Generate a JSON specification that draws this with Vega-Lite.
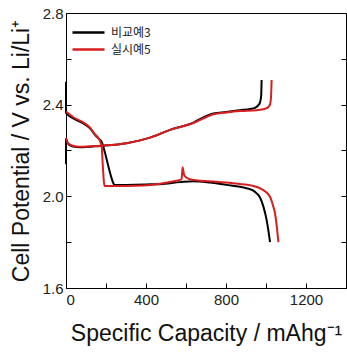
{
  "$schema": "https://vega.github.io/schema/vega-lite/v6.json",
  "width": 280,
  "height": 275,
  "autosize": {"type": "none"},
  "padding": {"left": 66, "top": 13, "right": 1, "bottom": 66},
  "background": "white",
  "config": {
    "font": "Liberation Sans",
    "view": {"stroke": "#000", "strokeWidth": 1}
  },
  "data": {"values": [
    {"s":"비교예3","c":"bd","o":1,"x":0,"y":2.50},
    {"s":"비교예3","c":"bd","o":2,"x":0,"y":2.365},
    {"s":"비교예3","c":"bd","o":3,"x":37,"y":2.34},
    {"s":"비교예3","c":"bd","o":4,"x":87,"y":2.318},
    {"s":"비교예3","c":"bd","o":5,"x":120,"y":2.297},
    {"s":"비교예3","c":"bd","o":6,"x":145,"y":2.268},
    {"s":"비교예3","c":"bd","o":7,"x":162,"y":2.253},
    {"s":"비교예3","c":"bd","o":8,"x":178,"y":2.238},
    {"s":"비교예3","c":"bd","o":9,"x":195,"y":2.19},
    {"s":"비교예3","c":"bd","o":10,"x":215,"y":2.12},
    {"s":"비교예3","c":"bd","o":11,"x":237,"y":2.057},
    {"s":"비교예3","c":"bd","o":12,"x":242,"y":2.049},
    {"s":"비교예3","c":"bd","o":13,"x":303,"y":2.050},
    {"s":"비교예3","c":"bd","o":14,"x":400,"y":2.052},
    {"s":"비교예3","c":"bd","o":15,"x":470,"y":2.053},
    {"s":"비교예3","c":"bd","o":16,"x":570,"y":2.062},
    {"s":"비교예3","c":"bd","o":17,"x":637,"y":2.066},
    {"s":"비교예3","c":"bd","o":18,"x":720,"y":2.060},
    {"s":"비교예3","c":"bd","o":19,"x":803,"y":2.050},
    {"s":"비교예3","c":"bd","o":20,"x":870,"y":2.042},
    {"s":"비교예3","c":"bd","o":21,"x":903,"y":2.035},
    {"s":"비교예3","c":"bd","o":22,"x":937,"y":2.025},
    {"s":"비교예3","c":"bd","o":23,"x":953,"y":2.013},
    {"s":"비교예3","c":"bd","o":24,"x":970,"y":1.995},
    {"s":"비교예3","c":"bd","o":25,"x":987,"y":1.955},
    {"s":"비교예3","c":"bd","o":26,"x":1003,"y":1.897},
    {"s":"비교예3","c":"bd","o":27,"x":1012,"y":1.85},
    {"s":"비교예3","c":"bd","o":28,"x":1020,"y":1.80},

    {"s":"비교예3","c":"bc","o":1,"x":0,"y":2.14},
    {"s":"비교예3","c":"bc","o":2,"x":0,"y":2.25},
    {"s":"비교예3","c":"bc","o":3,"x":10,"y":2.23},
    {"s":"비교예3","c":"bc","o":4,"x":30,"y":2.218},
    {"s":"비교예3","c":"bc","o":5,"x":70,"y":2.214},
    {"s":"비교예3","c":"bc","o":6,"x":170,"y":2.220},
    {"s":"비교예3","c":"bc","o":7,"x":303,"y":2.232},
    {"s":"비교예3","c":"bc","o":8,"x":420,"y":2.256},
    {"s":"비교예3","c":"bc","o":9,"x":520,"y":2.29},
    {"s":"비교예3","c":"bc","o":10,"x":637,"y":2.322},
    {"s":"비교예3","c":"bc","o":11,"x":700,"y":2.35},
    {"s":"비교예3","c":"bc","o":12,"x":737,"y":2.362},
    {"s":"비교예3","c":"bc","o":13,"x":803,"y":2.368},
    {"s":"비교예3","c":"bc","o":14,"x":870,"y":2.376},
    {"s":"비교예3","c":"bc","o":15,"x":920,"y":2.381},
    {"s":"비교예3","c":"bc","o":16,"x":945,"y":2.386},
    {"s":"비교예3","c":"bc","o":17,"x":962,"y":2.398},
    {"s":"비교예3","c":"bc","o":18,"x":970,"y":2.41},
    {"s":"비교예3","c":"bc","o":19,"x":976,"y":2.44},
    {"s":"비교예3","c":"bc","o":20,"x":978,"y":2.508},

    {"s":"실시예5","c":"rd","o":1,"x":0,"y":2.37},
    {"s":"실시예5","c":"rd","o":2,"x":37,"y":2.345},
    {"s":"실시예5","c":"rd","o":3,"x":87,"y":2.322},
    {"s":"실시예5","c":"rd","o":4,"x":120,"y":2.30},
    {"s":"실시예5","c":"rd","o":5,"x":145,"y":2.27},
    {"s":"실시예5","c":"rd","o":6,"x":165,"y":2.25},
    {"s":"실시예5","c":"rd","o":7,"x":178,"y":2.22},
    {"s":"실시예5","c":"rd","o":8,"x":183,"y":2.15},
    {"s":"실시예5","c":"rd","o":9,"x":188,"y":2.08},
    {"s":"실시예5","c":"rd","o":10,"x":192,"y":2.045},
    {"s":"실시예5","c":"rd","o":11,"x":303,"y":2.045},
    {"s":"실시예5","c":"rd","o":12,"x":387,"y":2.047},
    {"s":"실시예5","c":"rd","o":13,"x":470,"y":2.055},
    {"s":"실시예5","c":"rd","o":14,"x":540,"y":2.066},
    {"s":"실시예5","c":"rd","o":15,"x":578,"y":2.074},
    {"s":"실시예5","c":"rd","o":16,"x":583,"y":2.127},
    {"s":"실시예5","c":"rd","o":17,"x":590,"y":2.095},
    {"s":"실시예5","c":"rd","o":18,"x":600,"y":2.083},
    {"s":"실시예5","c":"rd","o":19,"x":620,"y":2.075},
    {"s":"실시예5","c":"rd","o":20,"x":670,"y":2.068},
    {"s":"실시예5","c":"rd","o":21,"x":750,"y":2.064},
    {"s":"실시예5","c":"rd","o":22,"x":803,"y":2.060},
    {"s":"실시예5","c":"rd","o":23,"x":870,"y":2.054},
    {"s":"실시예5","c":"rd","o":24,"x":920,"y":2.049},
    {"s":"실시예5","c":"rd","o":25,"x":987,"y":2.027},
    {"s":"실시예5","c":"rd","o":26,"x":1020,"y":1.998},
    {"s":"실시예5","c":"rd","o":27,"x":1035,"y":1.96},
    {"s":"실시예5","c":"rd","o":28,"x":1045,"y":1.926},
    {"s":"실시예5","c":"rd","o":29,"x":1055,"y":1.86},
    {"s":"실시예5","c":"rd","o":30,"x":1062,"y":1.80},

    {"s":"실시예5","c":"rc","o":1,"x":0,"y":2.255},
    {"s":"실시예5","c":"rc","o":2,"x":10,"y":2.232},
    {"s":"실시예5","c":"rc","o":3,"x":30,"y":2.222},
    {"s":"실시예5","c":"rc","o":4,"x":70,"y":2.216},
    {"s":"실시예5","c":"rc","o":5,"x":170,"y":2.221},
    {"s":"실시예5","c":"rc","o":6,"x":303,"y":2.232},
    {"s":"실시예5","c":"rc","o":7,"x":420,"y":2.256},
    {"s":"실시예5","c":"rc","o":8,"x":520,"y":2.29},
    {"s":"실시예5","c":"rc","o":9,"x":637,"y":2.32},
    {"s":"실시예5","c":"rc","o":10,"x":700,"y":2.345},
    {"s":"실시예5","c":"rc","o":11,"x":737,"y":2.358},
    {"s":"실시예5","c":"rc","o":12,"x":803,"y":2.366},
    {"s":"실시예5","c":"rc","o":13,"x":870,"y":2.372},
    {"s":"실시예5","c":"rc","o":14,"x":953,"y":2.376},
    {"s":"실시예5","c":"rc","o":15,"x":995,"y":2.382},
    {"s":"실시예5","c":"rc","o":16,"x":1012,"y":2.39},
    {"s":"실시예5","c":"rc","o":17,"x":1020,"y":2.40},
    {"s":"실시예5","c":"rc","o":18,"x":1025,"y":2.43},
    {"s":"실시예5","c":"rc","o":19,"x":1028,"y":2.508}
  ]},
  "layer": [
    {
      "mark": {"type": "line", "strokeWidth": 2, "interpolate": "monotone"},
      "encoding": {
        "x": {"field": "x", "type": "quantitative",
          "scale": {"domain": [0, 1400], "nice": false},
          "axis": {
            "values": [0,200,400,600,800,1000,1200,1400],
            "labelExpr": "datum.value % 400 === 0 && datum.value < 1400 ? datum.label : ''",
            "format": "d",
            "grid": false, "domain": false,
            "tickSize": -5, "tickColor": "#000",
            "labelFont": "Liberation Sans", "titleFont": "Liberation Sans",
            "labelFontSize": 15, "labelColor": "#222", "labelPadding": 9,
            "title": "Specific Capacity / mAhg⁻¹",
            "titleFontSize": 23, "titleFontWeight": "normal", "titleColor": "#111",
            "titlePadding": 15
          }},
        "y": {"field": "y", "type": "quantitative",
          "scale": {"domain": [1.6, 2.8], "nice": false, "zero": false},
          "axis": {
            "values": [1.6,1.8,2.0,2.2,2.4,2.6,2.8],
            "format": ".1f",
            "labelExpr": "indexof(['1.6','2.0','2.4','2.8'], datum.label) >= 0 ? datum.label : ''",
            "grid": false, "domain": false,
            "tickSize": -5, "tickColor": "#000",
            "labelFont": "Liberation Sans", "titleFont": "Liberation Sans",
            "labelFontSize": 15, "labelColor": "#222", "labelPadding": 8,
            "title": "Cell Potential  / V vs. Li/Li⁺",
            "titleFontSize": 23, "titleFontWeight": "normal", "titleColor": "#111",
            "titlePadding": 9
          }},
        "color": {"field": "s", "type": "nominal",
          "scale": {"domain": ["비교예3", "실시예5"], "range": ["#000000", "#d81e1e"]},
          "legend": {
            "title": null, "orient": "none", "legendX": 13, "legendY": 10,
            "symbolType": "M-2,0H2", "symbolSize": 256, "symbolStrokeWidth": 2.5,
            "symbolFillColor": "transparent",
            "labelFont": "Noto Sans CJK KR", "labelFontSize": 12, "labelColor": "#222",
            "rowPadding": 1, "padding": 0, "labelOffset": 13
          }},
        "detail": {"field": "c"},
        "order": {"field": "o", "type": "quantitative"}
      }
    },
    {
      "mark": {"type": "point", "opacity": 0},
      "encoding": {
        "y": {"field": "y", "type": "quantitative",
          "scale": {"domain": [1.6, 2.8], "nice": false, "zero": false},
          "axis": {"orient": "right", "values": [1.6,1.8,2.0,2.2,2.4,2.6,2.8],
            "labels": false, "title": null, "grid": false, "domain": false,
            "tickSize": -5, "tickColor": "#000"}}
      }
    }
  ],
  "resolve": {"axis": {"y": "independent"}}
}
